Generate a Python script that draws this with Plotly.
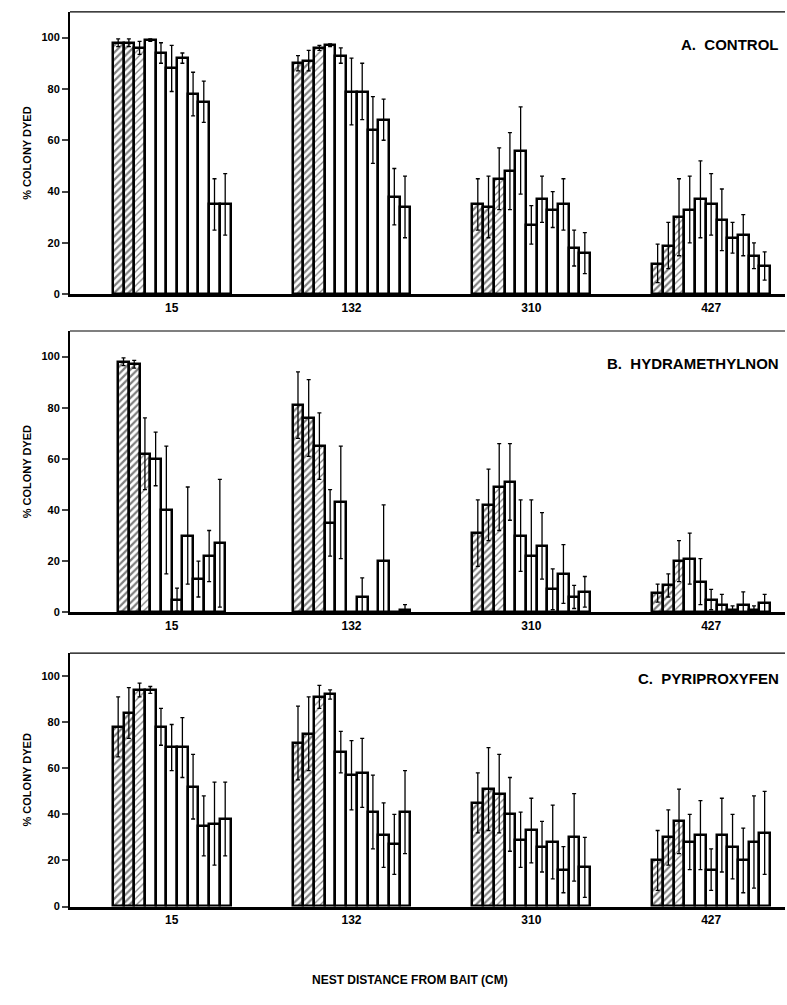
import plotly.graph_objects as go

# ---------------- data ----------------
groups = ["15", "132", "310", "427"]

ctrl_vals = [
    [98, 98, 96, 99, 94, 88, 92, 78, 75, 35, 35],
    [90, 91, 96, 97, 93, 79, 79, 64, 68, 38, 34],
    [35, 34, 45, 48, 56, 27, 37, 33, 35, 18, 16],
    [12, 19, 30, 33, 37, 35, 29, 22, 23, 15, 11],
]
ctrl_err = [
    [1.5, 1.5, 2.5, 0.5, 4, 9, 2, 8.5, 8, 10, 12],
    [3, 4, 1, 0.5, 3, 13, 11, 13, 8, 11, 12],
    [10, 12, 12, 15, 17, 7.5, 9, 7, 10, 7, 8],
    [7.5, 9, 15, 13, 15, 12, 12, 6, 8, 5, 5.5],
]

hydra_vals = [
    [98, 97, 62, 60, 40, 5, 30, 13, 22, 27],
    [81, 76, 65, 35, 43, 0, 6, 0, 20, 0, 1],
    [31, 42, 49, 51, 30, 22, 26, 9, 15, 6, 8],
    [7.5, 10.5, 20, 21, 12, 5, 3, 1, 3, 1, 3.5],
]
hydra_err = [
    [1.5, 1.5, 14, 10.5, 25, 4.5, 19, 7, 10, 25],
    [13, 15, 13, 13, 22, 0, 7.5, 0, 22, 0, 2],
    [13, 14, 17, 15, 14, 22, 13, 8, 11.5, 4.5, 6],
    [3.5, 4.5, 8, 10, 9, 4, 4, 1.5, 5, 1.5, 3.5],
]

pyri_vals = [
    [78, 84, 94, 94, 78, 69, 69, 52, 35, 36, 38],
    [71, 75, 91, 92, 67, 57, 58, 41, 31, 27, 41],
    [45, 51, 49, 40, 29, 33, 26, 28, 16, 30, 17],
    [20, 30, 37, 28, 31, 16, 31, 26, 20, 28, 32],
]
pyri_err = [
    [13, 11, 3, 1.5, 8, 10, 13, 14, 13, 18, 16],
    [16, 16, 5, 2, 9, 15, 15, 16, 14, 13, 18],
    [13, 18, 17, 16, 12, 14, 11, 16, 10, 19, 13],
    [13, 12, 14, 12, 15, 9, 16, 14, 14, 20, 18],
]

panel_titles = ["A.  CONTROL", "B.  HYDRAMETHYLNON", "C.  PYRIPROXYFEN"]
y_ticks = [0, 20, 40, 60, 80, 100]
x_title = "NEST DISTANCE FROM BAIT (CM)"
y_title = "% COLONY DYED"

panels = [(ctrl_vals, ctrl_err), (hydra_vals, hydra_err), (pyri_vals, pyri_err)]

# ---------------- layout geometry ----------------
W, H = 787, 1005
y_dom_px = [(12, 296), (333, 616), (657, 912)]
x_dom = [70 / W, 785 / W]
group_centers = [9.5 + 16.8 * i for i in range(len(groups))]
x_range = [0, 66.8]
title_y = [0.885, 0.885, 0.9]

FONT = "Liberation Sans, Arial, sans-serif"

fig = go.Figure()
layout = dict(
    width=W, height=H, margin=dict(l=0, r=0, t=0, b=0),
    paper_bgcolor="white", plot_bgcolor="white", showlegend=False,
    bargap=0, font=dict(family=FONT, color="black"),
)
shapes = []
annotations = []

for p, (vals, errs) in enumerate(panels):
    ax = "" if p == 0 else str(p + 1)
    top_px, bot_px = y_dom_px[p]
    ydom = [1 - bot_px / H, 1 - top_px / H]
    for g, (v, e) in enumerate(zip(vals, errs)):
        n = len(v)
        xs = [group_centers[g] + j - (n - 1) / 2 for j in range(n)]
        shapes_pat = ["/" if j < 3 else "" for j in range(n)]
        solid = [0.45, 0.45, 0.25] + [0.3] * (n - 3)
        fig.add_trace(go.Bar(
            x=xs, y=v, width=1.0,
            xaxis="x" + ax, yaxis="y" + ax,
            marker=dict(
                color="white",
                line=dict(color="black", width=2.5),
                pattern=dict(shape=shapes_pat, fgcolor="black", bgcolor="white",
                             size=5, solidity=solid, fillmode="overlay"),
            ),
            error_y=dict(type="data", array=e, symmetric=True, color="black",
                         thickness=1.3, width=2),
            hoverinfo="skip",
        ))
    layout["xaxis" + ax] = dict(
        domain=x_dom, range=x_range, anchor="y" + ax,
        showline=True, linecolor="black", linewidth=3,
        tickvals=group_centers, ticktext=groups, ticks="",
        tickfont=dict(family=FONT, size=12, weight="bold", color="black"),
        showgrid=False, zeroline=False, fixedrange=True,
    )
    layout["yaxis" + ax] = dict(
        domain=ydom, range=[0, 110], anchor="x" + ax,
        showline=True, linecolor="black", linewidth=2,
        tickvals=y_ticks, ticks="outside", ticklen=6, tickwidth=1.5,
        tickfont=dict(family=FONT, size=11, weight="bold", color="black"),
        showgrid=False, zeroline=False,
        title=dict(text=y_title, standoff=8,
                   font=dict(family=FONT, size=11, weight="bold", color="black")),
    )
    # thin top frame line
    shapes.append(dict(type="line", xref="x" + ax + " domain", yref="y" + ax + " domain",
                       x0=0, x1=1, y0=1, y1=1, line=dict(color="black", width=1.2)))
    annotations.append(dict(
        text=panel_titles[p], xref="x" + ax + " domain", yref="y" + ax + " domain",
        x=0.995, y=title_y[p], xanchor="right", yanchor="middle", showarrow=False,
        font=dict(family=FONT, size=15, weight="bold", color="black"),
    ))

annotations.append(dict(
    text=x_title, xref="paper", yref="paper", x=410 / W, y=1 - 986 / H,
    xanchor="center", yanchor="middle", showarrow=False,
    font=dict(family=FONT, size=12, weight="bold", color="black"),
))

layout["shapes"] = shapes
layout["annotations"] = annotations
fig.update_layout(**layout)
fig.write_html("out.html")
